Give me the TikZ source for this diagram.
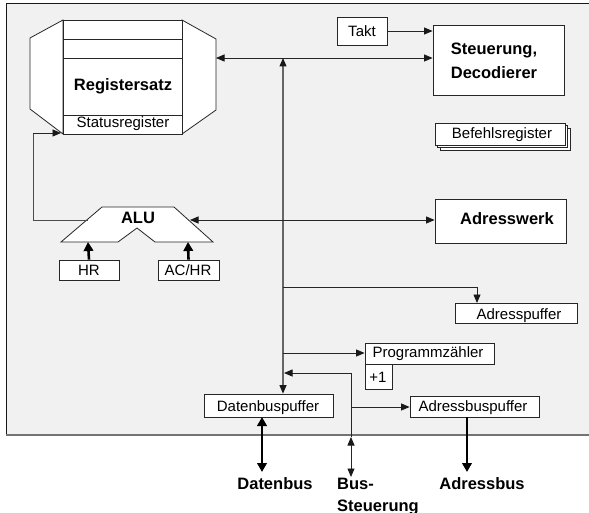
\documentclass[tikz,border=0pt]{standalone}
\usepackage{fontspec}
\setmainfont{Liberation Sans}
\usetikzlibrary{arrows.meta}
\begin{document}
\begin{tikzpicture}[x=1pt,y=-1pt,
  ln/.style={line width=0.8pt, draw=black!85},
  box/.style={ln, fill=white, inner sep=0pt, rectangle},
  arr/.style={ln, -{Triangle[length=8.5pt,width=7pt,color=black!90]}},
  darr/.style={ln, {Triangle[length=8.5pt,width=7pt,color=black!90]}-{Triangle[length=8.5pt,width=7pt,color=black!90]}},
  thick arr/.style={line width=2.6pt, -{Triangle[length=9pt,width=9.5pt]}},
  thick darr/.style={line width=2.6pt, {Triangle[length=9pt,width=9.5pt]}-{Triangle[length=9pt,width=9.5pt]}},
  txt/.style={inner sep=0pt, anchor=base, font=\fontsize{15}{18}\selectfont},
  btxt/.style={inner sep=0pt, anchor=base, font=\fontsize{16.5}{23}\selectfont\bfseries},
]
\useasboundingbox (0,0) rectangle (589,513);
% background panel
\fill[black!5.5] (6,4) rectangle (589,435);
\draw[black!90, line width=1pt] (589,4) -- (6,4) -- (6,435);
\draw[black!55, line width=1.3pt] (6,435) -- (589,435);

% Registersatz
\filldraw[ln, fill=white] (63,20) -- (30,38) -- (30,109) -- (63,134) -- cycle;
\filldraw[ln, fill=white] (182,20) -- (216,39) -- (216,110) -- (182,134) -- cycle;
\node[box, minimum width=119pt, minimum height=114pt] (reg) at (122.5,77) {};
\draw[ln] (63,39) -- (182,39);
\draw[ln] (63,58) -- (182,58);
\draw[ln] (63,115) -- (182,115);
\node[btxt] (regtxt) at (123,91) {Registersatz};
\node[txt] (stattxt) at (123,128) {Statusregister};

% Takt and Steuerung
\node[box, minimum width=50pt, minimum height=28pt] (takt) at (362,31) {};
\node[txt] at (362,37) {Takt};
\node[box, minimum width=131pt, minimum height=70pt] (steu) at (498.5,60) {};
\node[btxt] at (494,55) {Steuerung,};
\node[btxt] at (494,79) {Decodierer};

% Befehlsregister (stacked)
\node[box, minimum width=130pt, minimum height=22pt] (befb) at (505,139) {};
\node[box, minimum width=130pt, minimum height=22pt] (befm) at (502.5,136.5) {};
\node[box, minimum width=130pt, minimum height=22pt] (bef) at (500,134) {};
\node[txt] at (502,139) {Befehlsregister};

% ALU
\filldraw[ln, fill=white] (61,242) -- (102,207) -- (174,207) -- (213,242) -- (155,242) -- (137,228) -- (118,242) -- cycle;
\node[btxt] (alu) at (138,224) {ALU};
\node[box, minimum width=60pt, minimum height=20pt] (hr) at (89,270) {};
\node[txt] at (89,275) {HR};
\node[box, minimum width=61pt, minimum height=20pt] (achr) at (188.5,270) {};
\node[txt] at (188,275) {AC/HR};

% Adresswerk
\node[box, minimum width=131pt, minimum height=44pt] (adw) at (500.5,221) {};
\node[btxt] at (507,225) {Adresswerk};

% Adresspuffer
\node[box, minimum width=122pt, minimum height=20pt] (adp) at (516,313) {};
\node[txt] at (519,319) {Adresspuffer};

% Programmzaehler
\node[box, minimum width=129pt, minimum height=21pt] (pz) at (429.5,353.5) {};
\node[txt] at (428,357) {Programmzähler};
\node[box, minimum width=27pt, minimum height=25pt] (plus) at (378.5,376.5) {};
\node[txt] at (378,382) {+1};

% Buffers
\node[box, minimum width=129pt, minimum height=23pt] (dbp) at (268.5,405.5) {};
\node[txt] at (268,411) {Datenbuspuffer};
\node[box, minimum width=129pt, minimum height=21pt] (abp) at (474.5,406.5) {};
\node[txt] at (473,411) {Adressbuspuffer};

% bottom labels
\node[btxt] (datenbus) at (275,489) {Datenbus};
\node[btxt, anchor=base west] (bus1) at (337,489) {Bus-};
\node[btxt, anchor=base west] (bus2) at (337,511) {Steuerung};
\node[btxt] (adressbus) at (482,489) {Adressbus};

% coordinates
\coordinate (regR) at (216,58);
\coordinate (j1) at (283,58);
\coordinate (aluL) at (88,220);
\coordinate (aluR) at (190,220);
\coordinate (regLL) at (61,133);
\coordinate (c1) at (33,133);
\coordinate (j2) at (283,287);
\coordinate (j3) at (283,353);
\coordinate (adpin) at (477,303);
\coordinate (bsTop) at (351,373);
\coordinate (bsIn) at (284,373);
\coordinate (bsEdge) at (351,437);
\coordinate (bsEnd) at (351,477);
\coordinate (bsJ) at (351,407);
\coordinate (dbA) at (262,417);
\coordinate (dbB) at (262,472);
\coordinate (abA) at (467,417);
\coordinate (abB) at (467,472);

% connectors
\draw[darr] (regR) -- (regR -| steu.west);
\draw[arr] (takt.east) -- (takt.east -| steu.west);
\draw[darr, draw=black!60, line width=1.2pt] (j1) -- (j1 |- dbp.north);
\draw[ln, draw=black!70] (aluL) -- (33,220) -- (c1);
\draw[arr] (c1) -- (regLL);
\draw[darr] (aluR) -- (aluR -| adw.west);
\draw[thick arr] (hr.north) -- (88,242);
\draw[thick arr] (achr.north) -- (188,242);
\draw[ln] (j2) -- (j2 -| adpin);
\draw[arr] (j2 -| adpin) -- (adpin);
\draw[arr] (j3) -- (j3 -| pz.west);
\draw[darr] (bsEnd) -- (bsEdge);
\draw[ln] (bsEdge) -- (bsTop);
\draw[arr] (bsTop) -- (bsIn);
\draw[arr] (bsJ) -- (bsJ -| abp.west);
\draw[thick darr] (dbA) -- (dbB);
\draw[thick arr] (abA) -- (abB);
\end{tikzpicture}
\end{document}
